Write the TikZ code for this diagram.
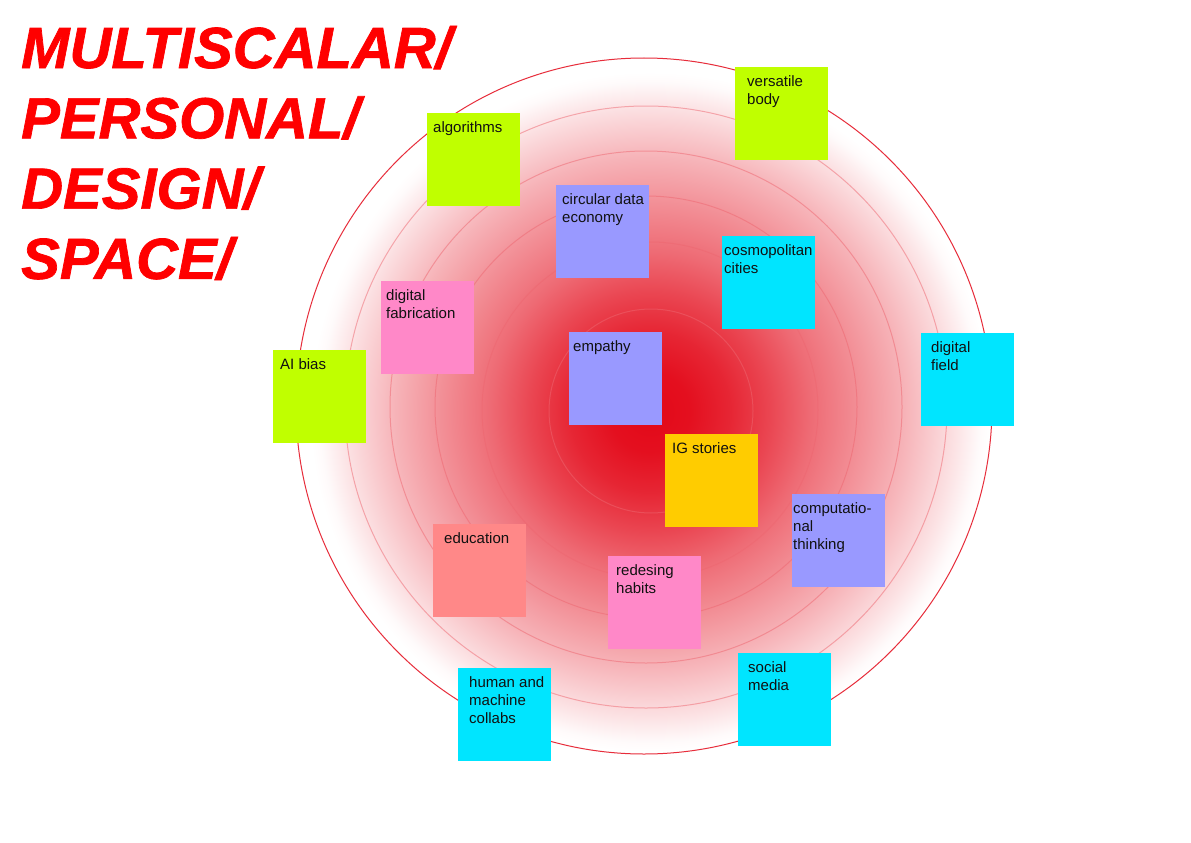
\documentclass[tikz,border=0pt]{standalone}
\usepackage{fontspec}
\setmainfont{Liberation Sans}
\newfontfamily\titlefont[FakeBold=1.2]{Liberation Sans Bold Italic}
\usetikzlibrary{calc}
\definecolor{glowred}{RGB}{227,8,24}
\definecolor{titlered}{RGB}{255,0,0}
\definecolor{lime}{RGB}{192,255,0}
\definecolor{peri}{RGB}{153,153,255}
\definecolor{aqua}{RGB}{0,229,255}
\definecolor{rosa}{RGB}{255,136,200}
\definecolor{salmon}{RGB}{255,136,136}
\definecolor{gold}{RGB}{255,204,0}
\definecolor{inkcol}{RGB}{17,17,17}
\pgfdeclareradialshading{redglow}{\pgfpoint{0bp}{0bp}}{%
 color(0bp)=(glowred);
 color(2.95bp)=(glowred!97!white);
 color(5.9bp)=(glowred!88!white);
 color(8.8bp)=(glowred!75!white);
 color(11.75bp)=(glowred!60!white);
 color(15.45bp)=(glowred!45!white);
 color(18.9bp)=(glowred!30!white);
 color(22.45bp)=(glowred!12!white);
 color(24.25bp)=(glowred!2!white);
 color(25bp)=(white);
 color(50bp)=(white)}
\tikzset{
 notebox/.style={rectangle, draw=none, minimum width=93pt, minimum height=93pt, inner sep=0pt, anchor=north west},
 notetext/.style={inner sep=0pt, anchor=base west, font=\fontsize{15}{18}\selectfont, text=inkcol},
 ringline/.style={draw=glowred!62!white, draw opacity=0.5, line width=1pt},
 outerring/.style={draw=glowred!85!white, line width=1pt},
 titletext/.style={inner sep=0pt, anchor=base west, font=\titlefont\fontsize{58}{70.3}\selectfont, text=titlered}
}
\newcommand\mknote[6]{%
 \node[notebox, fill=#4] (#1) at (#2,#3) {};
 \node[notetext] (#1-t) at ($(#1.north west)+(#5,19.5)$) {\parbox[t]{110pt}{\raggedright #6}};
}
\begin{document}
\begin{tikzpicture}[x=1pt,y=-1pt]
\useasboundingbox[fill=white] (0,0) rectangle (1191,843);
% glow
\shade[shading=redglow] (650,412) circle[radius=340pt];
% rings
\draw[outerring] (644,406) circle[radius=348pt];
\draw[ringline] (646,407) circle[radius=301pt];
\draw[ringline] (646,407) circle[radius=256pt];
\draw[ringline] (646,407) circle[radius=211pt];
\draw[ringline] (650,410) circle[radius=168pt];
\draw[ringline] (651,411) circle[radius=102pt];
% title
\node[titletext] (title) at (21,68) {\parbox[t]{600pt}{MULTISCALAR/\\PERSONAL/\\DESIGN/\\SPACE/}};
% notes
\mknote{algo}{427}{113}{lime}{6}{algorithms}
\mknote{vers}{735}{67}{lime}{12}{versatile\\body}
\mknote{circ}{556}{185}{peri}{6}{circular data\\economy}
\mknote{cosmo}{722}{236}{aqua}{2}{cosmopolitan\\cities}
\mknote{fab}{381}{281}{rosa}{5}{digital\\fabrication}
\mknote{emp}{569}{332}{peri}{4}{empathy}
\mknote{aib}{273}{350}{lime}{7}{AI bias}
\mknote{field}{921}{333}{aqua}{10}{digital\\field}
\mknote{igs}{665}{434}{gold}{7}{IG stories}
\mknote{comp}{792}{494}{peri}{1}{computatio-\\nal\\thinking}
\mknote{edu}{433}{524}{salmon}{11}{education}
\mknote{habits}{608}{556}{rosa}{8}{redesing\\habits}
\mknote{collab}{458}{668}{aqua}{11}{human and\\machine\\collabs}
\mknote{social}{738}{653}{aqua}{10}{social\\media}
\end{tikzpicture}
\end{document}
